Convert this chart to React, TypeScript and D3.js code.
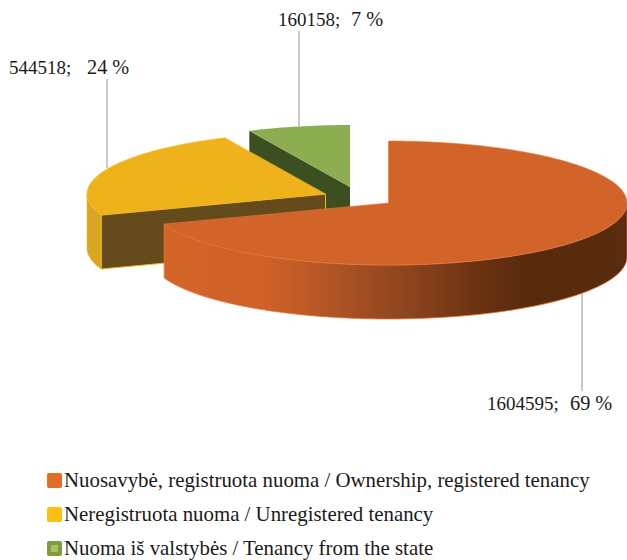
import React from "react";
import * as d3 from "d3";

const categories = [
  "Nuosavybė, registruota nuoma / Ownership, registered tenancy",
  "Neregistruota nuoma / Unregistered tenancy",
  "Nuoma iš valstybės / Tenancy from the state",
];
const values = [1604595, 544518, 160158];
const percents = ["69 %", "24 %", "7 %"];
const legendColors = ["#e56c24", "#fdbf12", "#7f9c3e"];
const topColors = ["#d26429", "#eeb31b", "#8cae50"];
const faceColors = ["#5a2c0e", "#654a1c", "#3c4f20"];
const wallColors = ["url(#orangeWall)", "#d9a61f", "#5d7a30"];
const edgeColors = ["#e8793a", "#f3b81c", "#8cae50"];

const W = 627, H = 560;
const RX = 238.5, RY = 62, DEPTH = 54;
const centers: [number, number][] = [[388.5, 203], [325.5, 194], [350, 187]];
const valueLabelPos: [number, number][] = [[487, 410], [9, 74], [278, 26]];
const pctLabelX = [570, 87, 351];
const leaders: [number, number, number][] = [[582, 293, 391], [107, 79, 168], [299, 31, 126]];
const legendBaselines = [487, 521, 555];

const pie = d3.pie<number>().sort(null).startAngle(0).endAngle(2 * Math.PI);
const arcs = pie(values);

const pt = (c: [number, number], a: number, dy = 0): [number, number] => [
  c[0] + RX * Math.sin(a),
  c[1] - RY * Math.cos(a) + dy,
];
const sample = (a0: number, a1: number) => {
  const n = Math.max(2, Math.ceil(Math.abs(a1 - a0) * 40));
  return d3.range(n + 1).map((i) => a0 + ((a1 - a0) * i) / n);
};
const line = d3.line();
const top = (c: [number, number], a0: number, a1: number) =>
  line([c, ...sample(a0, a1).map((a) => pt(c, a))])! + "Z";
const wall = (c: [number, number], a0: number, a1: number) =>
  line([
    ...sample(a0, a1).map((a) => pt(c, a)),
    ...sample(a1, a0).map((a) => pt(c, a, DEPTH)),
  ])! + "Z";
const face = (c: [number, number], a: number) =>
  line([c, pt(c, a), pt(c, a, DEPTH), [c[0], c[1] + DEPTH]])! + "Z";

const HALF = Math.PI / 2;
const font = "'Liberation Serif', 'Times New Roman', serif";

export default function App() {
  const [orange, yellow, green] = arcs;
  return (
    <svg
      width={W}
      height={H}
      viewBox={`0 0 ${W} ${H}`}
      style={{ position: "absolute", left: 0, top: 0, display: "block", background: "#fff" }}
      fontFamily={font}
      fill="#1a1a1a"
    >
      <defs>
        <linearGradient id="orangeWall" gradientUnits="userSpaceOnUse" x1={164} x2={627} y1={0} y2={0}>
          <stop offset="0" stopColor="#d46528" />
          <stop offset="0.229" stopColor="#cd6127" />
          <stop offset="0.294" stopColor="#c05b26" />
          <stop offset="0.423" stopColor="#a24e22" />
          <stop offset="0.531" stopColor="#8c441e" />
          <stop offset="0.661" stopColor="#6f3412" />
          <stop offset="0.769" stopColor="#592b0d" />
          <stop offset="1" stopColor="#5a2c0e" />
        </linearGradient>
      </defs>

      {leaders.map(([x, y0, y1], i) => (
        <line key={i} x1={x} x2={x} y1={y0} y2={y1} stroke="#a6a6a6" strokeWidth={1.2} />
      ))}

      {/* green slice */}
      <path d={face(centers[2], green.startAngle)} fill={faceColors[2]} />
      <path d={top(centers[2], green.startAngle, green.endAngle)} fill={topColors[2]} />

      {/* yellow slice */}
      <path d={face(centers[1], yellow.startAngle)} fill={faceColors[1]} stroke={edgeColors[1]} strokeWidth={1} />
      <path d={wall(centers[1], yellow.startAngle, 3 * HALF)} fill={wallColors[1]} stroke={edgeColors[1]} strokeWidth={0.6} />
      <path d={top(centers[1], yellow.startAngle, yellow.endAngle)} fill={topColors[1]} stroke={edgeColors[1]} strokeWidth={0.6} />

      {/* orange slice */}
      <path d={wall(centers[0], HALF, orange.endAngle)} fill={wallColors[0]} stroke={edgeColors[0]} strokeWidth={0.8} />
      <path d={top(centers[0], orange.startAngle, orange.endAngle)} fill={topColors[0]} stroke={edgeColors[0]} strokeWidth={0.6} />

      {values.map((v, i) => (
        <g key={i}>
          <text x={valueLabelPos[i][0]} y={valueLabelPos[i][1]} fontSize={19}>{`${v};`}</text>
          <text x={pctLabelX[i]} y={valueLabelPos[i][1]} fontSize={20.3}>{percents[i]}</text>
        </g>
      ))}

      {categories.map((c, i) => (
        <g key={i}>
          <rect x={47} y={legendBaselines[i] - 14} width={15} height={15} rx={2} fill={legendColors[i]} />
          {i === 2 && <rect x={51} y={legendBaselines[i] - 10} width={7} height={7} fill="#a3c268" />}
          <text x={64} y={legendBaselines[i]} fontSize={20.85}>{c}</text>
        </g>
      ))}
    </svg>
  );
}
